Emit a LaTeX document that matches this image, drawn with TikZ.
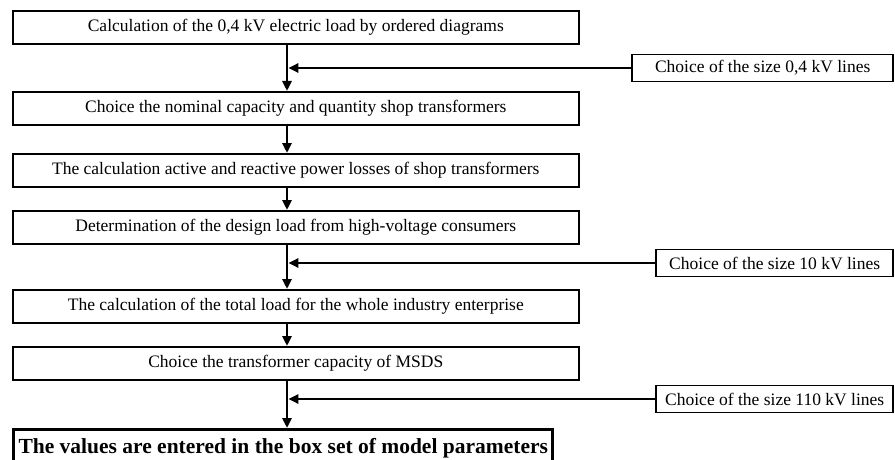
\documentclass[tikz,border=0pt]{standalone}
\usepackage{fontspec}
\setmainfont{Liberation Serif}
\usetikzlibrary{arrows.meta}
\tikzset{
  box/.style={draw, line width=1.6pt, minimum width=566pt, minimum height=33pt,
    anchor=north west, inner sep=0pt, font=\fontsize{17.5}{20}\selectfont},
  sidebox/.style={draw, line width=1.6pt, minimum height=27pt, anchor=east,
    inner sep=0pt, font=\fontsize{17.5}{20}\selectfont},
  finalbox/.style={draw, line width=3pt, minimum height=38pt, anchor=north west,
    inner xsep=5pt, inner ysep=0pt, font=\fontsize{21.5}{24}\selectfont\bfseries},
  flow/.style={line width=2.6pt, -{Triangle[length=10pt,width=9pt]}},
}
\begin{document}
\begin{tikzpicture}[x=1pt,y=-1pt]
\clip (0,0) rectangle (895,460);
\useasboundingbox (0,0) rectangle (895,460);
\coordinate (ax) at (287,0);
\node[box] (b1) at (12,10)  {Calculation of the 0,4 kV electric load by ordered diagrams};
\node[box] (b2) at (12,91)  {Choice the nominal capacity and quantity shop transformers};
\node[box] (b3) at (12,153) {The calculation active and reactive power losses of shop transformers};
\node[box] (b4) at (12,210) {Determination of the design load from high-voltage consumers};
\node[box] (b5) at (12,289) {The calculation of the total load for the whole industry enterprise};
\node[box] (b6) at (12,346) {Choice the transformer capacity of MSDS};
\node[finalbox] (b7) at (12,428) {The values are entered in the box set of model parameters};
\node[sidebox, minimum width=261pt] (s1) at (894,68) {Choice of the size 0,4 kV lines};
\node[sidebox, minimum width=237pt] (s2) at (894,263) {Choice of the size 10 kV lines};
\node[sidebox, minimum width=237pt] (s3) at (894,399) {Choice of the size 110 kV lines};
\foreach \a/\b in {b1/b2,b2/b3,b3/b4,b4/b5,b5/b6,b6/b7}
  \draw[flow] (\a.south -| ax) -- (\b.north -| ax);
\foreach \s in {s1,s2,s3}
  \draw[flow, shorten >=1.3pt] (\s.west) -- (\s.west -| ax);
\end{tikzpicture}
\end{document}
